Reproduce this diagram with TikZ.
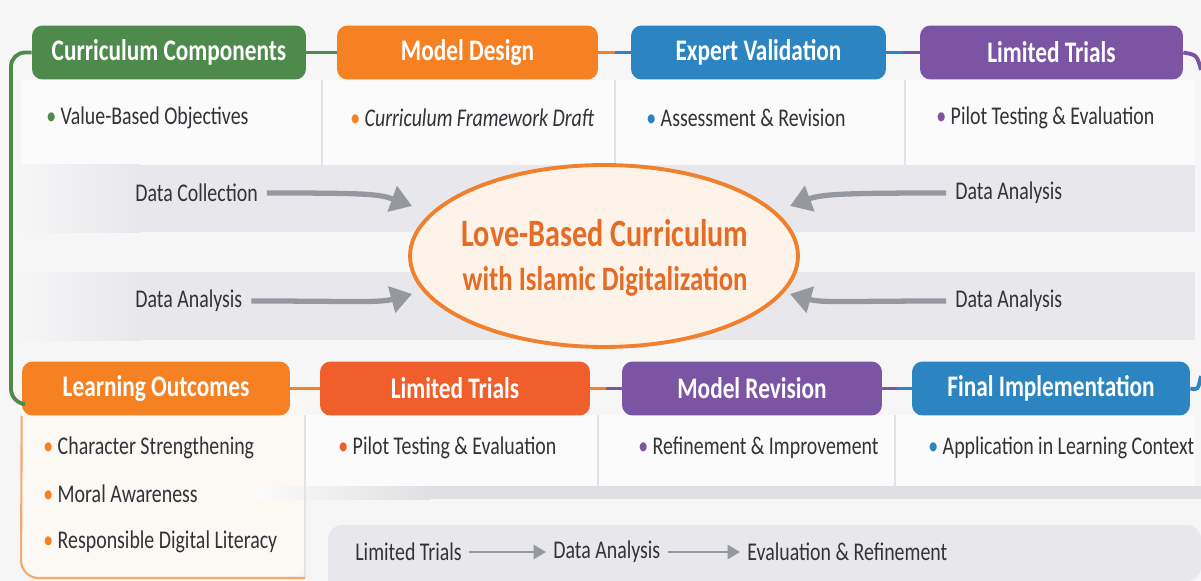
\documentclass[tikz,border=0pt]{standalone}
\usepackage{fontspec}
\setmainfont{Carlito}[FakeStretch=0.78]
\usetikzlibrary{arrows.meta,calc,shapes.geometric}

\definecolor{bg}{RGB}{246,246,247}
\definecolor{panelw}{RGB}{251,251,251}
\definecolor{band}{RGB}{232,232,236}
\definecolor{bar}{RGB}{224,224,228}
\definecolor{cream}{RGB}{252,248,244}
\definecolor{divider}{RGB}{226,226,229}
\definecolor{arrowgrey}{RGB}{150,152,160}
\definecolor{txt}{RGB}{50,50,55}
\definecolor{ellfill}{RGB}{253,243,232}
\definecolor{ellline}{RGB}{240,128,45}
\definecolor{elltxt}{RGB}{228,108,38}
\definecolor{cgreen}{RGB}{78,138,76}
\definecolor{corange}{RGB}{246,129,35}
\definecolor{cblue}{RGB}{44,133,193}
\definecolor{cpurple}{RGB}{123,85,163}
\definecolor{cred}{RGB}{240,94,44}
\definecolor{lorange}{RGB}{242,170,110}

\tikzset{
  head/.style={rounded corners=6pt, minimum height=1.08cm, inner sep=0pt,
    text=white, font=\fontsize{17}{17}\selectfont\bfseries},
  item/.style={anchor=west, inner sep=0pt, text=txt, font=\fontsize{14.5}{14.5}\selectfont},
  link/.style={line width=2.2pt},
  divline/.style={draw=divider, line width=0.8pt},
  bigarrow/.style={draw=arrowgrey, line width=3pt, -{Triangle[length=12pt,width=15pt]}},
  smallarrow/.style={draw=arrowgrey, line width=1.6pt, -{Triangle[length=7pt,width=8pt]},
    shorten <=4pt, shorten >=4pt},
}

\begin{document}
\begin{tikzpicture}[x=0.02cm,y=-0.02cm]
% background
\fill[bg] (0,0) rectangle (1201,581);
\useasboundingbox (0,0) rectangle (1201,581);

% panels and bands
\fill[panelw] (22,80) rectangle (1195,165);
\shade[left color=bg, right color=band] (15,165) rectangle (140,232);
\fill[band] (140,165) rectangle (1195,232);
\shade[left color=bg, right color=band] (15,272) rectangle (140,340);
\fill[band] (140,272) rectangle (1195,340);
\fill[panelw] (305,415) rectangle (1195,486);
\fill[cream, rounded corners=10pt] (21,395) rectangle (305,578);
\shade[left color=panelw, right color=bar] (255,486) rectangle (430,499);
\fill[bar] (430,486) rectangle (1201,499);
\fill[band] (1201,581) -- (328,581) [rounded corners=8pt] -- (328,525) -- (1201,525) -- cycle;

% dividers
\foreach \x in {322,615,905} \draw[divline] (\x,80) -- (\x,165);
\foreach \x in {598,895} \draw[divline] (\x,415) -- (\x,486);
\draw[divline] (305,415) -- (305,578);

% top row
\node[head, fill=cgreen, minimum width=5.48cm] (cc) at (169,52.5) {Curriculum Components};
\node[head, fill=corange, minimum width=5.22cm] (md) at (467.5,52.5) {Model Design};
\node[head, fill=cblue, minimum width=5.1cm] (ev) at (758.5,52.5) {Expert Validation};
\node[head, fill=cpurple, minimum width=5.26cm] (lt) at (1051.5,52.5) {Limited Trials};

% bottom row
\node[head, fill=corange, minimum width=5.36cm] (lo) at (156,388.5) {Learning Outcomes};
\node[head, fill=cred, minimum width=5.4cm] (lt2) at (455,388.5) {Limited Trials};
\node[head, fill=cpurple, minimum width=5.2cm] (mr) at (752,388.5) {Model Revision};
\node[head, fill=cblue, minimum width=5.56cm] (fi) at (1051,388.5) {Final Implementation};

% links between headers
\foreach \a/\b/\ca/\cb in {cc/md/cgreen/cgreen, md/ev/corange/cblue, ev/lt/cblue/cpurple,
    lo/lt2/corange/corange, lt2/mr/corange/cpurple, mr/fi/cpurple/cblue} {
  \draw[link,\ca] (\a.east) -- ($(\a.east)!.5!(\b.west)$);
  \draw[link,\cb] ($(\a.east)!.5!(\b.west)$) -- (\b.west);
}
\coordinate (rtop) at (1201,70);
\coordinate (rbot) at (1201,376);
\draw[link,cpurple] (lt.east) .. controls (1197,55) .. (rtop);
\draw[link,cblue] (fi.east) .. controls (1198,390) .. (rbot);
\draw[link,cgreen,rounded corners=8pt] (cc.west) -- (11,52.5) -- (11,403) -- ($(lo.south west)+(0,-12)$);
\draw[lorange,line width=1.2pt,rounded corners=10pt] (lo.south west) -- (21,578) -- (305,578);

% bullet items
\node[item] (i1) at (46,118) {\textcolor{cgreen}{\textbullet}\ Value-Based Objectives};
\node[item] (i2) at (350,118) {\textcolor{corange}{\textbullet}\ \itshape Curriculum Framework Draft};
\node[item] (i3) at (646,118) {\textcolor{cblue}{\textbullet}\ Assessment \& Revision};
\node[item] (i4) at (936,118) {\textcolor{cpurple}{\textbullet}\ Pilot Testing \& Evaluation};
\node[item] (o1) at (43,448) {\textcolor{corange}{\textbullet}\ Character Strengthening};
\node[item] (o2) at (43,494) {\textcolor{corange}{\textbullet}\ Moral Awareness};
\node[item] (o3) at (43,542) {\textcolor{corange}{\textbullet}\ Responsible Digital Literacy};
\node[item] (p1) at (338,448) {\textcolor{cred}{\textbullet}\ Pilot Testing \& Evaluation};
\node[item] (r1) at (638,448) {\textcolor{cpurple}{\textbullet}\ Refinement \& Improvement};
\node[item] (a1) at (928,448) {\textcolor{cblue}{\textbullet}\ Application in Learning Context};

% centre
\node[ellipse, draw=ellline, line width=2.2pt, fill=ellfill, minimum width=7.76cm,
  minimum height=3.64cm, inner sep=0pt] (core) at (604,256) {};
\node[text=elltxt, font=\fontsize{22}{22}\selectfont\bfseries] (t1) at (605,233) {Love-Based Curriculum};
\node[text=elltxt, font=\fontsize{19.5}{19.5}\selectfont\bfseries] (t2) at (605,281) {with Islamic Digitalization};

% data labels and arrows
\node[item] (dc) at (135,193) {Data Collection};
\node[item] (da1) at (135,301) {Data Analysis};
\node[item] (da2) at (955,193) {Data Analysis};
\node[item] (da3) at (955,301) {Data Analysis};
\draw[bigarrow] ([xshift=5pt]dc.east) .. controls ($(dc.east)+(110,0)$) and ($(core)+(-225,-62)$) .. ($(core)+(-192,-50)$);
\draw[bigarrow] ([xshift=5pt]da1.east) .. controls ($(da1.east)+(110,0)$) and ($(core)+(-225,47)$) .. ($(core)+(-192,38)$);
\draw[bigarrow] ([xshift=-5pt]da2.west) .. controls ($(da2.west)+(-110,0)$) and ($(core)+(218,-62)$) .. ($(core)+(186,-50)$);
\draw[bigarrow] ([xshift=-5pt]da3.west) .. controls ($(da3.west)+(-110,0)$) and ($(core)+(218,47)$) .. ($(core)+(186,38)$);

% bottom flow
\node[item] (ft1) at (355,552) {Limited Trials};
\node[item] (ft2) at (553,552) {Data Analysis};
\node[item] (ft3) at (747,552) {Evaluation \& Refinement};
\draw[smallarrow] (ft1.east) -- (ft2.west);
\draw[smallarrow] (ft2.east) -- (ft3.west);

\end{tikzpicture}
\end{document}
